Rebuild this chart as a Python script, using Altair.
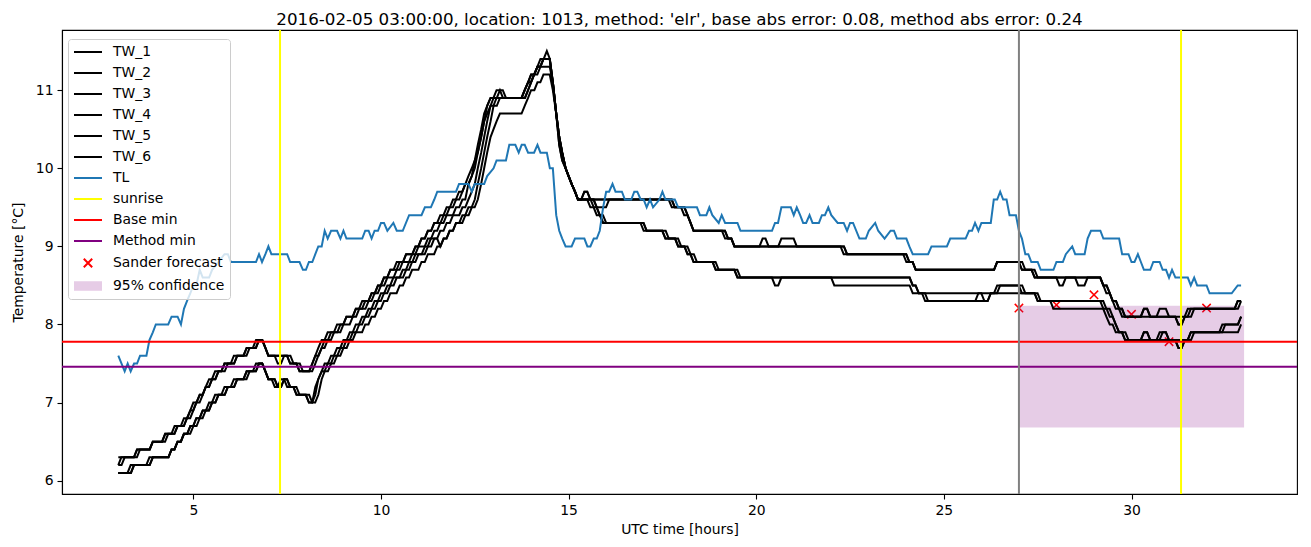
import altair as alt
import pandas as pd

# ---------------- data ----------------
# TW series: change points (hour, new value in deg C); values change in 0.1 steps
TW_1 = [(3.0,6.2),(3.08,6.3),(3.5,6.4),(3.92,6.5),(4.25,6.6),(4.58,6.7),(4.83,6.8),(4.92,6.9),(5.0,7.0),(5.17,7.1),(5.33,7.2),(5.42,7.3),(5.58,7.4),(5.83,7.5),(6.08,7.6),(6.42,7.7),(6.67,7.8),(6.92,7.7),(7.0,7.6),(7.58,7.5),(7.83,7.4),
        (8.17,7.5),(8.25,7.6),(8.33,7.7),(8.42,7.8),(8.58,7.9),(8.83,8.0),(9.08,8.1),(9.33,8.2),(9.58,8.3),(9.75,8.4),(9.92,8.5),(10.08,8.6),(10.25,8.7),(10.42,8.8),(10.67,8.9),(10.92,9.0),(11.08,9.1),(11.25,9.2),(11.42,9.3),(11.58,9.4),(11.75,9.5),(11.92,9.6),(12.08,9.7),(12.25,9.8),(12.33,9.9),(12.42,10.0),(12.5,10.1),(12.58,10.3),(12.67,10.5),(12.75,10.7),(12.83,10.8),(12.92,10.9),(13.08,11.0),(13.33,10.9),(13.83,11.0),(13.92,11.1),(14.0,11.2),(14.17,11.3),(14.25,11.4),(14.42,11.5),(14.5,11.4),(14.58,11.1),(14.67,10.7),(14.75,10.4),(14.83,10.2),(14.92,10.0),(15.0,9.9),(15.08,9.8),(15.17,9.7),(15.25,9.6),
        (15.42,9.7),(15.58,9.6),(17.83,9.5),(18.17,9.4),(18.25,9.3),(18.33,9.2),(19.25,9.1),(19.42,9.0),(22.42,8.9),(24.08,8.8),(24.25,8.7),(26.42,8.8),(27.08,8.7),(27.42,8.6),(29.25,8.5),(29.33,8.4),(29.5,8.3),(29.58,8.2),(29.75,8.1),(30.33,8.2),(30.5,8.1),(31.25,8.0),(31.42,8.1),(31.58,8.2),(32.83,8.3),(32.92,8.3)]
TW_2 = [(3.0,6.2),(3.17,6.3),(3.58,6.4),(3.92,6.5),(4.33,6.6),(4.58,6.7),(4.83,6.8),(5.0,6.9),(5.08,7.0),(5.25,7.1),(5.33,7.2),(5.5,7.3),(5.67,7.4),(5.83,7.5),(6.17,7.6),(6.42,7.7),(6.75,7.8),(6.92,7.7),(7.0,7.6),(7.25,7.5),(7.42,7.6),(7.58,7.5),(7.83,7.4),
        (8.17,7.5),(8.25,7.6),(8.42,7.7),(8.5,7.8),(8.67,7.9),(8.92,8.0),(9.08,8.1),(9.33,8.2),(9.5,8.3),(9.75,8.4),(9.92,8.5),(10.08,8.6),(10.25,8.7),(10.5,8.8),(10.67,8.9),(10.92,9.0),(11.08,9.1),(11.25,9.2),(11.42,9.3),(11.67,9.4),(11.83,9.5),(12.0,9.6),(12.17,9.7),(12.25,9.8),(12.42,9.9),(12.5,10.1),(12.58,10.2),(12.67,10.4),(12.75,10.6),(12.83,10.8),(12.92,10.9),(13.83,11.0),(13.92,11.1),(14.08,11.2),(14.17,11.3),(14.33,11.4),(14.58,11.1),(14.67,10.7),(14.75,10.4),(14.83,10.2),(14.92,10.0),(15.0,9.9),(15.08,9.8),(15.17,9.7),(15.25,9.6),
        (17.75,9.5),(18.08,9.4),(18.25,9.3),(18.33,9.2),(19.17,9.1),(19.42,9.0),(20.17,9.1),(20.33,9.0),(22.33,8.9),(24.0,8.8),(24.25,8.7),(26.42,8.8),(27.08,8.7),(27.42,8.6),(28.08,8.5),(28.25,8.6),(29.25,8.5),(29.42,8.4),(29.5,8.3),(29.67,8.2),(29.83,8.1),(30.75,8.2),(31.0,8.1),(31.5,8.2),(32.83,8.3),(32.92,8.3)]
TW_3 = [(3.0,6.3),(3.5,6.4),(3.92,6.5),(4.25,6.6),(4.5,6.7),(4.75,6.8),(4.92,6.9),(5.08,7.0),(5.17,7.1),(5.33,7.2),(5.5,7.3),(5.67,7.4),(5.92,7.5),(6.17,7.6),(6.5,7.7),(6.75,7.8),(6.92,7.7),(7.0,7.6),(7.67,7.5),(7.92,7.4),
        (8.25,7.5),(8.33,7.6),(8.42,7.7),(8.58,7.8),(8.75,7.9),(9.0,8.0),(9.25,8.1),(9.42,8.2),(9.67,8.3),(9.83,8.4),(10.0,8.5),(10.17,8.6),(10.42,8.7),(10.58,8.8),(10.83,8.9),(11.0,9.0),(11.25,9.1),(11.42,9.2),(11.58,9.3),(11.75,9.4),(12.0,9.5),(12.17,9.6),(12.33,9.8),(12.42,9.9),(12.5,10.0),(12.58,10.2),(12.67,10.4),(12.75,10.6),(12.83,10.7),(12.92,10.8),(13.0,10.9),(13.17,11.0),(13.25,10.9),(13.92,11.0),(14.0,11.1),(14.08,11.2),(14.17,11.3),(14.33,11.4),(14.58,11.1),(14.67,10.7),(14.75,10.3),(14.83,10.1),(14.92,10.0),(15.0,9.9),(15.08,9.8),(15.17,9.7),(15.25,9.6),
        (15.75,9.5),(16.08,9.6),(17.83,9.5),(18.17,9.4),(18.25,9.3),(18.33,9.2),(19.25,9.1),(19.42,9.0),(20.67,9.1),(21.08,9.0),(22.42,8.9),(24.08,8.8),(24.25,8.7),(26.42,8.8),(27.17,8.7),(27.5,8.6),(28.58,8.5),(28.83,8.6),(29.25,8.5),(29.42,8.4),(29.5,8.3),(29.67,8.2),(29.83,8.1),(30.33,8.2),(30.5,8.1),(31.25,8.0),(31.42,8.1),(31.67,8.2),(32.92,8.3)]
TW_4 = [(3.0,6.1),(3.33,6.2),(3.92,6.3),(4.42,6.4),(4.58,6.5),(4.75,6.6),(4.92,6.7),(5.08,6.8),(5.25,6.9),(5.42,7.0),(5.58,7.1),(5.83,7.2),(6.08,7.3),(6.42,7.4),(6.67,7.5),(6.92,7.4),(7.0,7.3),(7.25,7.2),(7.42,7.3),(7.58,7.2),(7.75,7.1),(8.08,7.0),
        (8.25,7.1),(8.33,7.3),(8.42,7.4),(8.5,7.5),(8.67,7.6),(8.83,7.7),(9.0,7.8),(9.17,7.9),(9.33,8.0),(9.5,8.1),(9.67,8.2),(9.83,8.3),(10.0,8.4),(10.17,8.5),(10.33,8.6),(10.58,8.7),(10.75,8.8),(10.92,8.9),(11.17,9.0),(11.33,9.1),(11.58,9.2),(11.75,9.3),(11.92,9.4),(12.17,9.5),(12.33,9.6),(12.42,9.7),(12.5,9.8),(12.58,10.0),(12.67,10.2),(12.75,10.4),(12.83,10.6),(12.92,10.8),(13.08,10.9),(13.83,11.0),(13.92,11.1),(14.0,11.2),(14.17,11.3),(14.33,11.4),(14.58,11.1),(14.67,10.7),(14.75,10.4),(14.83,10.2),(14.92,10.0),(15.0,9.9),(15.08,9.8),(15.17,9.7),(15.25,9.6),
        (15.42,9.7),(15.58,9.6),(15.75,9.5),(15.83,9.4),(16.0,9.3),(17.0,9.2),(17.58,9.1),(17.92,9.0),(18.17,8.9),(18.33,8.8),(18.92,8.7),(19.5,8.6),(20.5,8.5),(20.67,8.6),(24.17,8.5),(24.33,8.4),(26.42,8.5),(27.08,8.4),(27.5,8.3),(29.25,8.2),(29.42,8.1),(29.58,8.0),(29.67,7.9),(29.83,7.8),(30.33,7.9),(30.5,7.8),(31.25,7.7),(31.42,7.8),(31.58,7.9),(32.42,8.0),(32.92,8.1)]
TW_5 = [(3.0,6.1),(3.42,6.2),(3.92,6.3),(4.42,6.4),(4.58,6.5),(4.75,6.6),(4.92,6.7),(5.08,6.8),(5.25,6.9),(5.5,7.0),(5.67,7.1),(5.92,7.2),(6.17,7.3),(6.42,7.4),(6.75,7.5),(6.92,7.4),(7.0,7.3),(7.17,7.2),(7.33,7.3),(7.5,7.2),(7.75,7.1),(8.08,7.0),
        (8.25,7.2),(8.33,7.3),(8.42,7.4),(8.58,7.5),(8.75,7.6),(8.92,7.7),(9.08,7.8),(9.25,7.9),(9.42,8.0),(9.58,8.1),(9.75,8.2),(9.92,8.3),(10.08,8.4),(10.25,8.5),(10.42,8.6),(10.67,8.7),(10.83,8.8),(11.0,8.9),(11.25,9.0),(11.42,9.1),(11.58,9.0),(11.67,9.1),(11.83,9.2),(12.0,9.3),(12.17,9.4),(12.33,9.5),(12.5,9.6),(12.58,9.8),(12.67,10.0),(12.75,10.2),(12.83,10.4),(12.92,10.6),(13.0,10.8),(13.17,10.9),(13.92,11.0),(14.0,11.1),(14.08,11.2),(14.25,11.3),(14.58,11.1),(14.67,10.7),(14.75,10.4),(14.83,10.2),(14.92,10.0),(15.0,9.9),(15.08,9.8),(15.17,9.7),(15.25,9.6),
        (15.67,9.5),(15.83,9.4),(15.92,9.3),(17.08,9.2),(17.58,9.1),(17.92,9.0),(18.17,8.9),(18.33,8.8),(18.92,8.7),(19.5,8.6),(22.08,8.5),(24.17,8.4),(24.5,8.3),(25.92,8.4),(26.08,8.3),(26.25,8.4),(27.5,8.3),(27.92,8.2),(29.33,8.1),(29.42,8.0),(29.58,7.9),(29.83,7.8),(30.75,7.9),(31.0,7.8),(31.58,7.9),(32.92,8.0)]
TW_6 = [(3.0,6.1),(3.42,6.2),(3.83,6.3),(4.42,6.4),(4.58,6.5),(4.75,6.6),(5.0,6.7),(5.17,6.8),(5.33,6.9),(5.5,7.0),(5.67,7.1),(5.92,7.2),(6.17,7.3),(6.5,7.4),(6.75,7.5),(6.92,7.4),(7.0,7.3),(7.25,7.2),(7.42,7.3),(7.58,7.2),(7.83,7.1),(8.17,7.0),
        (8.33,7.1),(8.42,7.3),(8.5,7.4),(8.67,7.5),(8.83,7.6),(9.0,7.7),(9.17,7.8),(9.33,7.9),(9.58,8.0),(9.75,8.1),(9.92,8.2),(10.08,8.3),(10.25,8.4),(10.5,8.5),(10.67,8.6),(10.83,8.7),(11.08,8.8),(11.25,8.9),(11.5,9.0),(11.67,9.1),(11.83,9.2),(12.0,9.3),(12.25,9.4),(12.42,9.5),(12.58,9.6),(12.67,9.8),(12.75,10.0),(12.83,10.2),(12.92,10.4),(13.0,10.5),(13.08,10.6),(13.17,10.7),(13.83,10.8),(13.92,10.9),(14.0,11.0),(14.17,11.1),(14.33,11.2),(14.58,11.0),(14.67,10.7),(14.75,10.3),(14.83,10.1),(14.92,10.0),(15.0,9.9),(15.08,9.8),(15.17,9.7),(15.25,9.6),
        (15.58,9.5),(15.75,9.4),(15.92,9.3),(17.08,9.2),(17.67,9.1),(18.0,9.0),(18.25,8.9),(18.42,8.8),(19.0,8.7),(19.58,8.6),(24.17,8.5),(24.33,8.4),(24.58,8.3),(26.25,8.4),(26.5,8.5),(27.17,8.4),(27.58,8.3),(29.33,8.2),(29.5,8.1),(29.58,8.0),(29.67,7.9),(29.92,7.8),(30.33,7.9),(30.5,7.8),(30.83,7.9),(31.0,7.8),(31.25,7.7),(31.42,7.8),(31.67,7.9),(32.5,8.0),(32.92,8.1)]

# TL (air temperature): polyline vertices (hour, deg C)
TL = [(3.0,7.6),(3.17,7.4),(3.25,7.5),(3.33,7.4),(3.42,7.5),(3.5,7.5),(3.58,7.6),(3.75,7.6),(3.83,7.8),(3.92,7.9),(4.0,8.0),(4.33,8.0),(4.42,8.1),(4.58,8.1),(4.67,8.0),(4.75,8.2),(4.83,8.3),(4.92,8.4),(5.0,8.5),(5.08,8.5),(5.17,8.7),(5.25,8.6),(5.42,8.6),(5.5,8.7),(5.67,8.8),(5.83,8.9),(5.92,8.9),(6.0,8.8),(6.67,8.8),(6.75,8.9),(6.83,8.8),(6.92,8.9),(7.0,9.0),(7.08,8.9),(7.5,8.9),(7.58,8.8),(7.83,8.8),(7.92,8.7),(8.0,8.7),(8.08,8.8),(8.17,8.8),(8.25,8.9),(8.33,9.0),(8.42,9.0),(8.5,9.2),(8.58,9.1),(8.67,9.2),(8.83,9.2),(8.92,9.1),(9.0,9.2),(9.08,9.1),(9.5,9.1),(9.58,9.2),(9.67,9.2),(9.75,9.1),(9.83,9.2),(9.92,9.2),(10.0,9.3),(10.08,9.3),(10.17,9.2),(10.33,9.3),(10.42,9.2),(10.58,9.2),(10.75,9.4),(11.08,9.4),(11.17,9.5),(11.33,9.5),(11.42,9.6),(11.5,9.7),(12.0,9.7),(12.08,9.8),(12.33,9.8),(12.42,9.7),(12.5,9.8),(12.75,9.8),(12.83,9.9),(13.0,10.0),(13.08,10.1),(13.33,10.1),(13.42,10.3),(13.58,10.3),(13.67,10.2),(13.75,10.3),(13.83,10.3),(13.92,10.2),(14.08,10.2),(14.17,10.3),(14.25,10.2),(14.42,10.2),(14.5,10.0),(14.58,10.0),(14.67,9.4),(14.75,9.2),(14.83,9.1),(14.92,9.0),(15.08,9.0),(15.17,9.1),(15.42,9.1),(15.5,9.0),(15.58,9.0),(15.67,9.1),(15.75,9.1),(15.83,9.2),(15.92,9.5),(16.0,9.7),(16.08,9.7),(16.17,9.8),(16.25,9.7),(16.42,9.7),(16.5,9.6),(16.67,9.6),(16.75,9.7),(16.83,9.7),(16.92,9.6),(17.0,9.6),(17.08,9.5),(17.17,9.6),(17.25,9.5),(17.42,9.6),(17.5,9.7),(17.58,9.6),(17.83,9.6),(17.92,9.5),(18.42,9.5),(18.5,9.4),(18.67,9.4),(18.75,9.5),(18.83,9.4),(19.0,9.3),(19.08,9.4),(19.17,9.3),(19.5,9.3),(19.58,9.2),(20.42,9.2),(20.5,9.3),(20.58,9.3),(20.67,9.5),(20.92,9.5),(21.0,9.4),(21.08,9.5),(21.17,9.4),(21.25,9.3),(21.33,9.3),(21.42,9.4),(21.5,9.3),(21.67,9.3),(21.75,9.4),(21.83,9.4),(21.92,9.5),(22.0,9.4),(22.17,9.3),(22.33,9.3),(22.42,9.2),(22.5,9.3),(22.58,9.3),(22.75,9.1),(22.92,9.1),(23.0,9.2),(23.17,9.3),(23.25,9.2),(23.42,9.1),(23.58,9.2),(23.67,9.2),(23.75,9.1),(24.0,9.1),(24.08,9.0),(24.17,8.9),(24.58,8.9),(24.67,9.0),(25.08,9.0),(25.17,9.1),(25.58,9.1),(25.67,9.2),(25.75,9.2),(25.83,9.3),(25.92,9.2),(26.0,9.3),(26.25,9.3),(26.33,9.6),(26.42,9.6),(26.5,9.7),(26.58,9.6),(26.67,9.6),(26.75,9.4),(26.92,9.4),(27.0,9.2),(27.08,9.1),(27.17,8.9),(27.25,8.9),(27.33,8.8),(27.5,8.8),(27.58,8.7),(27.92,8.7),(28.0,8.8),(28.17,8.8),(28.25,8.9),(28.42,9.0),(28.5,8.9),(28.75,8.9),(28.83,9.1),(28.92,9.2),(29.17,9.2),(29.25,9.1),(29.67,9.1),(29.75,8.9),(29.92,8.9),(30.0,8.8),(30.08,8.8),(30.17,8.9),(30.25,8.8),(30.33,8.7),(30.5,8.7),(30.58,8.8),(30.75,8.8),(30.83,8.7),(30.92,8.7),(31.0,8.6),(31.08,8.7),(31.17,8.6),(31.5,8.6),(31.58,8.5),(31.67,8.6),(31.75,8.5),(32.0,8.5),(32.08,8.4),(32.67,8.4),(32.83,8.5),(32.92,8.5)]

SUNRISE_H = [7.31, 31.32]
FORECAST_START_H = [27.0]
BASE_MIN = [7.78]
METHOD_MIN = [7.46]
SANDER_H = [27, 28, 29, 30, 31, 32]
SANDER_T = [8.21, 8.25, 8.38, 8.13, 7.78, 8.21]
CONF_H = [27.0, 33.0]
CONF_T = [6.68, 8.24]

TITLE = "2016-02-05 03:00:00, location: 1013, method: 'elr', base abs error: 0.08, method abs error: 0.24"
X_TICKS = [5, 10, 15, 20, 25, 30]
Y_TICKS = [6, 7, 8, 9, 10, 11]

LEGEND_LABELS = ['TW_1', 'TW_2', 'TW_3', 'TW_4', 'TW_5', 'TW_6', 'TL', 'sunrise',
                 'Base min', 'Method min', 'Sander forecast', '95% confidence']

# ---------------- build tables ----------------
STEP = 1.0 / 12.0


def step_path(points):
    xs, ys = [points[0][0]], [points[0][1]]
    for t, v in points[1:]:
        if t - STEP > xs[-1] + 0.02:
            xs.append(t - STEP)
            ys.append(ys[-1])
        xs.append(t)
        ys.append(v)
    return xs, ys


rows = []
for name, pts in [('TW_1', TW_1), ('TW_2', TW_2), ('TW_3', TW_3),
                  ('TW_4', TW_4), ('TW_5', TW_5), ('TW_6', TW_6)]:
    xs, ys = step_path(pts)
    for i, (x, y) in enumerate(zip(xs, ys)):
        rows.append({'series': name, 'i': i, 'h': x, 't': y})
tw_df = pd.DataFrame(rows)
tl_df = pd.DataFrame({'h': [p[0] for p in TL], 't': [p[1] for p in TL], 'i': list(range(len(TL)))})

FONT = 'DejaVu Sans'
LW = 2.0
xscale = alt.Scale(domain=[1.5, 34.41], nice=False, zero=False)
yscale = alt.Scale(domain=[5.83, 11.77], nice=False, zero=False)

x_axis = alt.Axis(values=X_TICKS, format='d', title='UTC time [hours]', grid=False, titlePadding=6)
y_axis = alt.Axis(values=Y_TICKS, format='d', title='Temperature [°C]', grid=False, titlePadding=10)

conf_df = pd.DataFrame({'h0': [CONF_H[0]], 'h1': [CONF_H[1]], 't0': [CONF_T[0]], 't1': [CONF_T[1]]})
sander_df = pd.DataFrame({'h': SANDER_H, 't': SANDER_T})

XPATH = 'M-1,-1L1,1M-1,1L1,-1'

sander = alt.Chart(sander_df).mark_point(shape=XPATH, filled=False, size=70, strokeWidth=1.5, color='red', opacity=1).encode(
    x=alt.X('h:Q', scale=xscale, axis=x_axis),
    y=alt.Y('t:Q', scale=yscale, axis=y_axis),
)
conf = alt.Chart(conf_df).mark_rect(color='purple', opacity=0.2).encode(
    x='h0:Q', x2='h1:Q', y='t0:Q', y2='t1:Q')

tw = alt.Chart(tw_df).mark_line(color='black', strokeWidth=LW).encode(
    x='h:Q', y='t:Q', detail='series:N', order='i:Q')
tl = alt.Chart(tl_df).mark_line(color='#1f77b4', strokeWidth=LW).encode(
    x='h:Q', y='t:Q', order='i:Q')

sunrise = alt.Chart(pd.DataFrame({'h': SUNRISE_H})).mark_rule(color='#ffff00', strokeWidth=LW).encode(x='h:Q')
base = alt.Chart(pd.DataFrame({'t': BASE_MIN})).mark_rule(color='red', strokeWidth=LW).encode(y='t:Q')
method = alt.Chart(pd.DataFrame({'t': METHOD_MIN})).mark_rule(color='purple', strokeWidth=LW).encode(y='t:Q')
fstart = alt.Chart(pd.DataFrame({'h': FORECAST_START_H})).mark_rule(color='gray', strokeWidth=LW).encode(x='h:Q')

# legend-only layer (symbols: line, x marker, filled patch drawn as dense strokes)
LINE = 'M-2,0L2,0'
XS = 'M-0.6,-0.6L0.6,0.6M-0.6,0.6L0.6,-0.6'
PATCH = 'M-2,-0.55L2,-0.55M-2,-0.35L2,-0.35M-2,-0.15L2,-0.15M-2,0.05L2,0.05M-2,0.25L2,0.25M-2,0.45L2,0.45M-2,0.55L2,0.55'
leg_stroke = ['black'] * 6 + ['#1f77b4', '#ffff00', 'red', 'purple', 'red', '#e6cce6']
leg_shape = [LINE] * 10 + [XS, PATCH]
leg_df = pd.DataFrame({'label': LEGEND_LABELS})
legend = alt.Legend(title=None, orient='none', legendX=6, legendY=9, direction='vertical',
                    labelFont=FONT, labelFontSize=13.9, labelColor='black', labelLimit=400,
                    symbolSize=196, symbolStrokeWidth=LW, rowPadding=6, padding=5,
                    symbolOffset=7, labelOffset=17,
                    fillColor='rgba(255,255,255,0.8)', strokeColor='#cccccc', cornerRadius=3)
leg = alt.Chart(leg_df).mark_point(opacity=0, filled=False).encode(
    x=alt.value(0), y=alt.value(0),
    shape=alt.Shape('label:N', scale=alt.Scale(domain=LEGEND_LABELS, range=leg_shape), legend=legend),
    stroke=alt.Stroke('label:N', scale=alt.Scale(domain=LEGEND_LABELS, range=leg_stroke)),
)

chart = alt.layer(sander, conf, tw, tl, sunrise, base, method, fstart, leg).properties(
    width=1235, height=464,
    title=alt.TitleParams(TITLE, font=FONT, fontSize=16.7, fontWeight='normal', color='black',
                          anchor='middle', offset=0),
    padding={'left': 62, 'top': 30, 'right': 14, 'bottom': 53},
    autosize=alt.AutoSizeParams(type='none'),
).configure_view(stroke='black', strokeWidth=1.1).configure_axis(
    labelFont=FONT, labelFontSize=13.9, labelColor='black',
    titleFont=FONT, titleFontSize=13.9, titleColor='black', titleFontWeight='normal',
    tickColor='black', tickSize=5, tickWidth=1.1, domainColor='black', domainWidth=1.1,
    labelPadding=4,
)

chart.save('out.html', embed_options={'renderer': 'svg', 'actions': False})
